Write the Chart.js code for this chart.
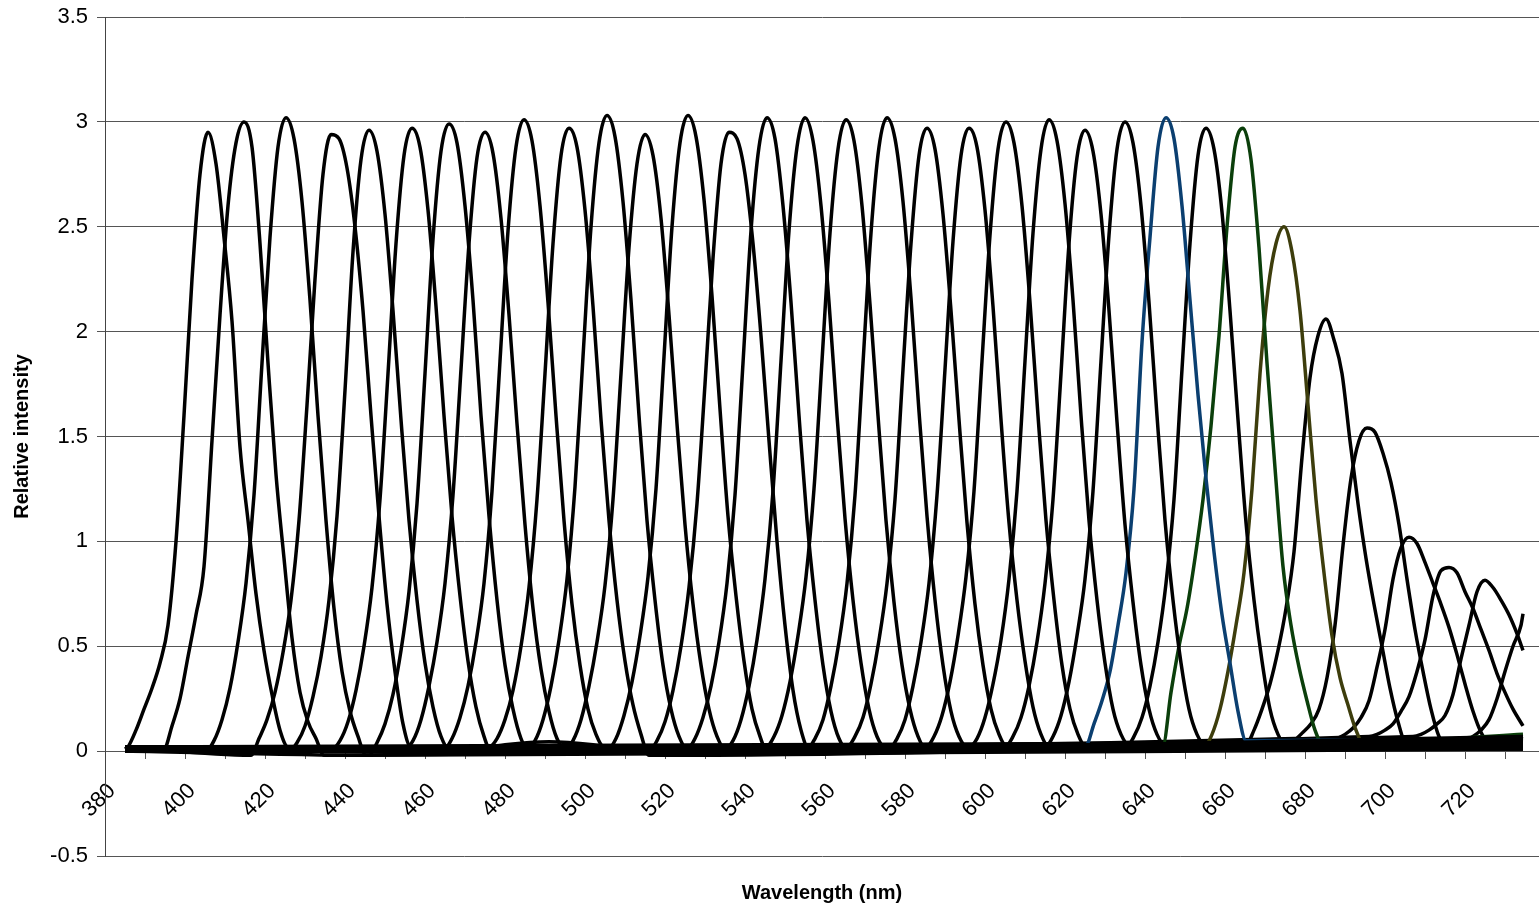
<!DOCTYPE html>
<html>
<head>
<meta charset="utf-8">
<script src="https://cdn.jsdelivr.net/npm/chart.js@4"></script>
<style>
  html, body { margin: 0; padding: 0; background: #fff; }
  #chart { display: block; }
</style>
</head>
<body>
<canvas id="chart" width="1539" height="908"></canvas>
<script>
// wavelength axis (nm) and intensity axis
const xMin = 380, xMax = 738.5, xStep = 10;
const yTicks = [-0.5, 0, 0.5, 1, 1.5, 2, 2.5, 3, 3.5];
const xFirst = 385, xLast = 734.5;   // every scan covers this range
const sampleStep = 2;                // nm between peak samples

// first wavelength of the sampled peak region of each scan
const peakStart = [385.75, 394.75, 405.25, 416.5, 426, 436.75, 446, 455, 464.75, 476,
  485.5, 495, 505.75, 516, 525.5, 535, 545.25, 555.5, 565.5, 576,
  585.25, 596, 605, 615, 625.25, 635.25, 644.5, 654.75, 665.25, 677.5,
  686, 696, 707, 716];

// intensities, one row per scan, every 2 nm from peakStart
const peakValues = [
  [0.02, 0.1, 0.2, 0.3, 0.42, 0.6, 1.0, 1.6, 2.25, 2.75, 2.95, 2.8, 2.45, 2.05, 1.45, 1.1, 0.75, 0.48, 0.27, 0.1, 0.02],
  [0.01, 0.12, 0.25, 0.45, 0.65, 0.88, 1.48, 2.08, 2.6, 2.9, 3.0, 2.88, 2.42, 1.85, 1.32, 0.92, 0.54, 0.28, 0.14, 0.06, -0.02],
  [0.0, 0.05, 0.15, 0.3, 0.52, 0.8, 1.22, 1.85, 2.45, 2.88, 3.02, 2.92, 2.62, 2.15, 1.6, 1.1, 0.68, 0.38, 0.19, 0.07, -0.02],
  [-0.02, 0.06, 0.15, 0.28, 0.47, 0.72, 1.1, 1.65, 2.25, 2.75, 2.94, 2.92, 2.78, 2.5, 2.1, 1.6, 1.12, 0.7, 0.38, 0.13, 0.02],
  [0.0, 0.04, 0.12, 0.26, 0.45, 0.72, 1.12, 1.72, 2.38, 2.82, 2.96, 2.86, 2.56, 2.1, 1.58, 1.1, 0.72, 0.42, 0.21, 0.07, 0.01],
  [0.01, 0.05, 0.14, 0.29, 0.5, 0.78, 1.2, 1.8, 2.42, 2.84, 2.97, 2.88, 2.58, 2.12, 1.6, 1.12, 0.74, 0.43, 0.21, 0.07, -0.01],
  [-0.02, 0.04, 0.13, 0.27, 0.48, 0.76, 1.18, 1.8, 2.44, 2.86, 2.99, 2.9, 2.6, 2.15, 1.6, 1.12, 0.72, 0.41, 0.2, 0.06, 0.0],
  [0.01, 0.05, 0.15, 0.31, 0.52, 0.8, 1.22, 1.82, 2.42, 2.83, 2.95, 2.85, 2.54, 2.08, 1.56, 1.08, 0.68, 0.39, 0.19, 0.06, 0.01],
  [0.01, 0.06, 0.16, 0.31, 0.52, 0.8, 1.24, 1.86, 2.48, 2.88, 3.01, 2.91, 2.6, 2.14, 1.6, 1.1, 0.7, 0.41, 0.2, 0.08, 0.02],
  [0.02, 0.06, 0.15, 0.29, 0.5, 0.78, 1.2, 1.8, 2.42, 2.84, 2.97, 2.88, 2.58, 2.12, 1.58, 1.1, 0.72, 0.43, 0.22, 0.08, -0.02],
  [0.01, 0.05, 0.15, 0.31, 0.53, 0.82, 1.26, 1.88, 2.5, 2.9, 3.03, 2.93, 2.62, 2.15, 1.6, 1.1, 0.72, 0.41, 0.2, 0.07, 0.01],
  [0.0, 0.05, 0.15, 0.31, 0.52, 0.79, 1.2, 1.8, 2.4, 2.8, 2.94, 2.84, 2.54, 2.08, 1.56, 1.08, 0.7, 0.41, 0.2, 0.07, 0.01],
  [0.01, 0.06, 0.17, 0.33, 0.55, 0.83, 1.25, 1.88, 2.5, 2.9, 3.03, 2.93, 2.63, 2.17, 1.63, 1.12, 0.74, 0.43, 0.2, 0.07, -0.01],
  [0.0, 0.05, 0.14, 0.29, 0.5, 0.78, 1.18, 1.75, 2.35, 2.8, 2.95, 2.92, 2.75, 2.42, 1.98, 1.48, 1.0, 0.6, 0.29, 0.1, 0.01],
  [0.01, 0.06, 0.16, 0.31, 0.52, 0.8, 1.22, 1.85, 2.48, 2.88, 3.02, 2.92, 2.6, 2.14, 1.6, 1.1, 0.72, 0.41, 0.19, 0.06, 0.01],
  [0.01, 0.05, 0.15, 0.31, 0.53, 0.82, 1.24, 1.86, 2.48, 2.88, 3.02, 2.91, 2.6, 2.14, 1.6, 1.11, 0.72, 0.42, 0.2, 0.07, 0.02],
  [0.02, 0.07, 0.17, 0.33, 0.55, 0.83, 1.25, 1.86, 2.47, 2.87, 3.01, 2.91, 2.6, 2.13, 1.6, 1.1, 0.71, 0.41, 0.2, 0.07, 0.01],
  [0.01, 0.06, 0.15, 0.31, 0.52, 0.8, 1.22, 1.85, 2.47, 2.88, 3.02, 2.92, 2.62, 2.16, 1.62, 1.12, 0.72, 0.41, 0.19, 0.07, 0.02],
  [0.02, 0.07, 0.16, 0.32, 0.53, 0.8, 1.2, 1.82, 2.42, 2.84, 2.97, 2.87, 2.56, 2.1, 1.58, 1.09, 0.7, 0.41, 0.2, 0.08, 0.02],
  [0.01, 0.06, 0.15, 0.31, 0.52, 0.8, 1.22, 1.82, 2.43, 2.84, 2.97, 2.88, 2.58, 2.12, 1.58, 1.09, 0.72, 0.43, 0.21, 0.08, 0.02],
  [0.02, 0.07, 0.17, 0.33, 0.55, 0.83, 1.24, 1.86, 2.46, 2.87, 3.0, 2.9, 2.6, 2.14, 1.6, 1.1, 0.72, 0.41, 0.2, 0.08, 0.02],
  [0.02, 0.06, 0.16, 0.32, 0.53, 0.82, 1.24, 1.86, 2.47, 2.87, 3.01, 2.91, 2.61, 2.15, 1.6, 1.1, 0.72, 0.42, 0.2, 0.08, 0.03],
  [0.02, 0.07, 0.16, 0.31, 0.52, 0.8, 1.2, 1.8, 2.42, 2.83, 2.96, 2.86, 2.56, 2.1, 1.57, 1.08, 0.71, 0.41, 0.2, 0.08, 0.03],
  [0.02, 0.07, 0.17, 0.33, 0.55, 0.82, 1.24, 1.86, 2.46, 2.87, 3.0, 2.9, 2.6, 2.14, 1.6, 1.1, 0.72, 0.42, 0.2, 0.08, 0.03],
  [0.03, 0.13, 0.24, 0.38, 0.6, 0.85, 1.25, 1.95, 2.45, 2.88, 3.02, 2.92, 2.6, 2.15, 1.7, 1.3, 0.95, 0.65, 0.42, 0.19, 0.05],
  [0.02, 0.07, 0.16, 0.31, 0.52, 0.8, 1.2, 1.82, 2.42, 2.84, 2.97, 2.87, 2.57, 2.1, 1.58, 1.09, 0.72, 0.43, 0.2, 0.08, 0.03],
  [0.03, 0.28, 0.5, 0.68, 0.92, 1.2, 1.55, 1.98, 2.5, 2.88, 2.97, 2.82, 2.4, 1.85, 1.35, 0.88, 0.6, 0.4, 0.24, 0.1, 0.03],
  [0.02, 0.08, 0.2, 0.38, 0.6, 0.85, 1.25, 1.8, 2.2, 2.42, 2.5, 2.38, 2.1, 1.65, 1.2, 0.85, 0.55, 0.35, 0.22, 0.1, 0.03],
  [0.03, 0.1, 0.2, 0.32, 0.48, 0.68, 0.95, 1.4, 1.78, 1.98, 2.06, 1.96, 1.8, 1.48, 1.18, 0.92, 0.7, 0.5, 0.3, 0.14, 0.04],
  [0.06, 0.09, 0.13, 0.2, 0.35, 0.6, 0.98, 1.3, 1.48, 1.54, 1.52, 1.42, 1.28, 1.08, 0.82, 0.58, 0.38, 0.2, 0.07, 0.03],
  [0.04, 0.06, 0.08, 0.11, 0.16, 0.24, 0.4, 0.58, 0.82, 0.97, 1.02, 0.99, 0.9, 0.8, 0.7, 0.59, 0.46, 0.32, 0.19, 0.09, 0.04],
  [0.07, 0.08, 0.1, 0.13, 0.19, 0.26, 0.38, 0.53, 0.74, 0.86, 0.875, 0.85, 0.76, 0.68, 0.58, 0.48, 0.37, 0.28, 0.2],
  [0.07, 0.08, 0.1, 0.13, 0.17, 0.27, 0.44, 0.6, 0.76, 0.815, 0.78, 0.72, 0.65, 0.56],
  [0.02, 0.03, 0.05, 0.07, 0.1, 0.15, 0.25, 0.38, 0.5, 0.6]
];

// baseline values at the two ends of every scan
const baseLeft = [0.01, 0.0, 0.01, 0.02, 0.0, 0.01, 0.0, 0.01, 0.02, 0.0, 0.01, 0.0, 0.01, 0.02, 0.0, 0.01,
  0.0, 0.01, 0.02, 0.0, 0.01, 0.0, 0.01, 0.02, 0.0, 0.01, 0.0, 0.01, 0.0, 0.01, 0.02, 0.0, 0.01, 0.0];
const baseRight = [0.02, 0.03, 0.01, 0.04, 0.02, 0.05, 0.03, 0.01, 0.04, 0.06, 0.02, 0.03, 0.05, 0.01, 0.04, 0.07,
  0.02, 0.03, 0.05, 0.04, 0.06, 0.02, 0.03, 0.05, 0.06, 0.04, 0.08, 0.07, 0.05, 0.06, 0.07, 0.12, 0.48, 0.655];

// small hump on the baseline of the first scan
const humpX = [470, 480, 491, 502, 512];
const humpY = [0.0, 0.03, 0.045, 0.03, 0.0];

const lineColors = peakStart.map(() => '#000000');
lineColors[24] = '#0b3f70';  // 645 nm scan
lineColors[26] = '#0b3f0b';  // 665 nm scan
lineColors[27] = '#3d3d0c';  // 675 nm scan

const FONT = '"Liberation Sans", Arial, sans-serif';

const datasets = peakStart.map((start, i) => {
  const pts = [];
  if (start > xFirst) pts.push({x: xFirst, y: baseLeft[i]});
  peakValues[i].forEach((v, k) => pts.push({x: start + k * sampleStep, y: v}));
  if (i === 0) humpX.forEach((hx, k) => pts.push({x: hx, y: humpY[k]}));
  if (pts[pts.length - 1].x < xLast) pts.push({x: xLast, y: baseRight[i]});
  return {
    data: pts,
    borderColor: lineColors[i],
    borderWidth: 3.5,
    pointRadius: 0,
    fill: false,
    cubicInterpolationMode: 'monotone',
    borderJoinStyle: 'round'
  };
});

new Chart(document.getElementById('chart'), {
  type: 'line',
  data: { datasets: datasets },
  options: {
    responsive: false,
    animation: false,
    devicePixelRatio: 1,
    layout: { padding: { top: 17, right: 0, bottom: 0, left: 0 } },
    plugins: {
      legend: { display: false },
      tooltip: { enabled: false },
      title: {
        display: true,
        text: 'Wavelength (nm)',
        position: 'bottom',
        fullSize: false,
        color: '#000',
        font: { family: FONT, size: 20, weight: 'bold' },
        padding: { top: 25, bottom: 3 }
      }
    },
    scales: {
      x: {
        type: 'linear',
        position: { y: 0 },
        min: xMin,
        max: xMax,
        afterFit: (s) => { s.paddingLeft = 0; s.paddingRight = 0; },
        grid: { drawOnChartArea: false, tickLength: 7, color: '#555' },
        border: { display: true, color: '#555' },
        ticks: {
          stepSize: xStep,
          includeBounds: false,
          autoSkip: false,
          minRotation: 45,
          maxRotation: 45,
          labelOffset: 7,
          padding: 20,
          color: '#000',
          font: { family: FONT, size: 22 },
          callback: (v) => (v % 20 === 0 ? String(v) : '')
        }
      },
      y: {
        min: yTicks[0],
        max: yTicks[yTicks.length - 1],
        afterFit: (s) => { s.width = 105; s.paddingTop = 0; s.paddingBottom = 0; },
        grid: { color: '#555', tickLength: 8 },
        border: { color: '#444' },
        title: {
          display: true,
          text: 'Relative intensity',
          color: '#000',
          font: { family: FONT, size: 20, weight: 'bold' },
          padding: { top: 10, bottom: 0 }
        },
        ticks: {
          stepSize: 0.5,
          padding: 9,
          color: '#000',
          font: { family: FONT, size: 22 },
          callback: (v) => String(v)
        }
      }
    }
  }
});
</script>
</body>
</html>
